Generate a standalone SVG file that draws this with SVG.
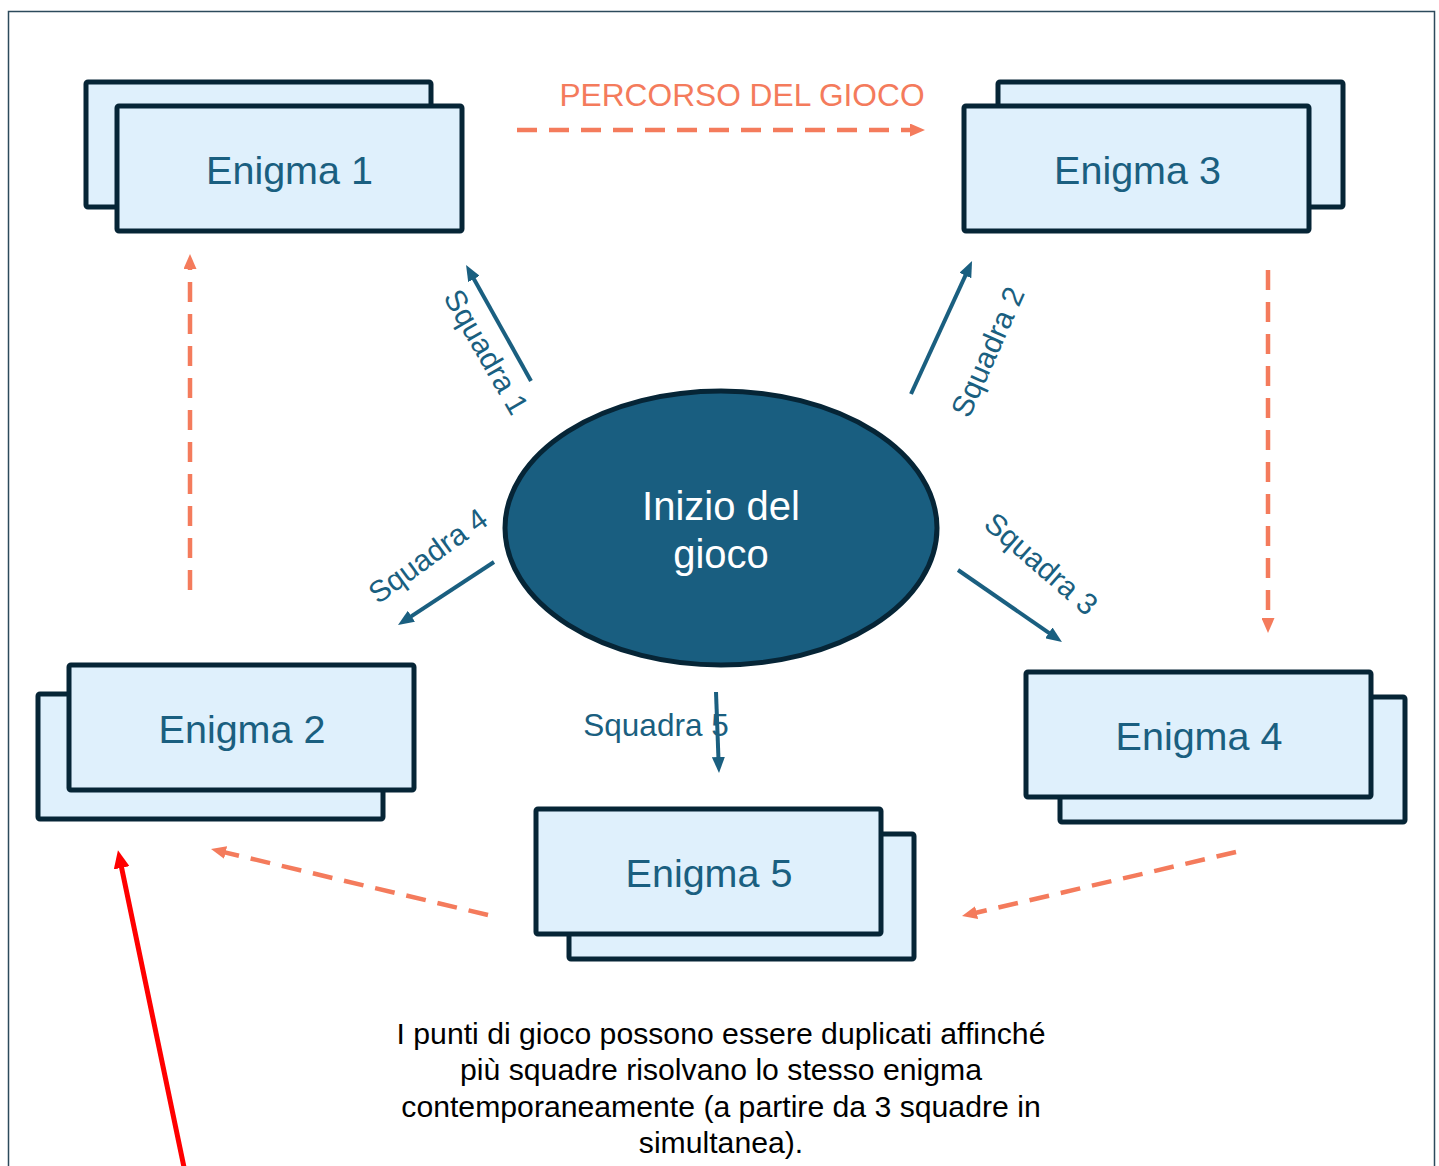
<svg xmlns="http://www.w3.org/2000/svg" width="1439" height="1166" viewBox="0 0 1439 1166">
<style>
.card{fill:#dff0fc;stroke:#062536;stroke-width:5;stroke-linejoin:round}
.lbl{font-family:"Liberation Sans",Arial,sans-serif;font-size:39.5px;fill:#1a5f80;text-anchor:middle}
.sq{font-family:"Liberation Sans",Arial,sans-serif;font-size:30px;fill:#1a5f80;text-anchor:middle}
.blue{stroke:#1a5f80;stroke-width:4;fill:none}
.orange{stroke:#f47b5c;stroke-width:4.5;fill:none;stroke-dasharray:20 12}
.red{stroke:#ff0000;stroke-width:5;fill:none}
.note{font-family:"Liberation Sans",Arial,sans-serif;font-size:30.2px;fill:#000;text-anchor:middle}
</style>
<defs>
<marker id="ab" viewBox="0 0 16 13" markerUnits="userSpaceOnUse" markerWidth="16" markerHeight="13" refX="8" refY="6.5" orient="auto"><path d="M0,0 L16,6.5 L0,13 z" fill="#1a5f80"/></marker>
<marker id="ao" viewBox="0 0 15 13" markerUnits="userSpaceOnUse" markerWidth="15" markerHeight="13" refX="7" refY="6.5" orient="auto"><path d="M0,0 L15,6.5 L0,13 z" fill="#f47b5c"/></marker>
<marker id="ar" viewBox="0 0 18 16" markerUnits="userSpaceOnUse" markerWidth="18" markerHeight="16" refX="8" refY="8" orient="auto"><path d="M0,0 L18,8 L0,16 z" fill="#ff0000"/></marker>
</defs>
<rect width="1439" height="1166" fill="#ffffff"/>
<path d="M8.5,1170 V11.5 H1434.5 V1170" fill="none" stroke="#2c4a5c" stroke-width="1.5"/>

<g id="connectors">
<path class="blue" d="M531,381 L470,272" marker-end="url(#ab)"/>
<path class="blue" d="M911,394 L968.7,268.3" marker-end="url(#ab)"/>
<path class="blue" d="M494,562 L404.7,620.6" marker-end="url(#ab)"/>
<path class="blue" d="M958,570 L1055.4,637.4" marker-end="url(#ab)"/>
<path class="blue" d="M716,692 L718.7,765" marker-end="url(#ab)"/>
<path class="orange" d="M517,130 L917,130" marker-end="url(#ao)"/>
<path class="orange" d="M190,590 L190,262" marker-end="url(#ao)"/>
<path class="orange" d="M1268,270 L1268,625" marker-end="url(#ao)"/>
<path class="orange" d="M1236,852 L969.8,914.2" marker-end="url(#ao)"/>
<path class="orange" d="M488,915 L218.8,850.9" marker-end="url(#ao)"/>
<path class="red" d="M185,1172 L120,860" marker-end="url(#ar)"/>
<text class="sq" transform="translate(486,352) rotate(60)" y="10">Squadra 1</text>
<text class="sq" transform="translate(988,352) rotate(-66)" y="10">Squadra 2</text>
<text class="sq" transform="translate(428,556) rotate(-36)" y="10">Squadra 4</text>
<text class="sq" transform="translate(1041,564) rotate(41)" y="10">Squadra 3</text>
<text class="sq" x="656" y="736" style="font-size:31.5px">Squadra 5</text>
<text x="742" y="106" font-family="'Liberation Sans',Arial,sans-serif" font-size="31.7" fill="#f47b5c" text-anchor="middle">PERCORSO DEL GIOCO</text>
</g>

<g id="start">
<ellipse cx="721" cy="528" rx="216" ry="137" fill="#195e80" stroke="#062536" stroke-width="5"/>
<text x="721" y="520" font-family="'Liberation Sans',Arial,sans-serif" font-size="40" fill="#ffffff" text-anchor="middle">Inizio del</text>
<text x="721" y="568" font-family="'Liberation Sans',Arial,sans-serif" font-size="40" fill="#ffffff" text-anchor="middle">gioco</text>
</g>

<g id="enigma1">
<rect class="card" x="86" y="82" width="345" height="125" rx="2"/>
<rect class="card" x="117" y="106" width="345" height="125" rx="2"/>
<text class="lbl" x="289.5" y="184">Enigma 1</text>
</g>
<g id="enigma3">
<rect class="card" x="998" y="82" width="345" height="125" rx="2"/>
<rect class="card" x="964" y="106" width="345" height="125" rx="2"/>
<text class="lbl" x="1137.5" y="184">Enigma 3</text>
</g>
<g id="enigma2">
<rect class="card" x="38" y="694" width="345" height="125" rx="2"/>
<rect class="card" x="69" y="665" width="345" height="125" rx="2"/>
<text class="lbl" x="242" y="743">Enigma 2</text>
</g>
<g id="enigma4">
<rect class="card" x="1060" y="697" width="345" height="125" rx="2"/>
<rect class="card" x="1026" y="672" width="345" height="125" rx="2"/>
<text class="lbl" x="1199" y="750">Enigma 4</text>
</g>
<g id="enigma5">
<rect class="card" x="569" y="834" width="345" height="125" rx="2"/>
<rect class="card" x="536" y="809" width="345" height="125" rx="2"/>
<text class="lbl" x="709" y="887">Enigma 5</text>
</g>

<g id="note">
<text class="note" x="721" y="1044">I punti di gioco possono essere duplicati affinché</text>
<text class="note" x="721" y="1080">più squadre risolvano lo stesso enigma</text>
<text class="note" x="721" y="1117">contemporaneamente (a partire da 3 squadre in</text>
<text class="note" x="721" y="1153">simultanea).</text>
</g>
</svg>
